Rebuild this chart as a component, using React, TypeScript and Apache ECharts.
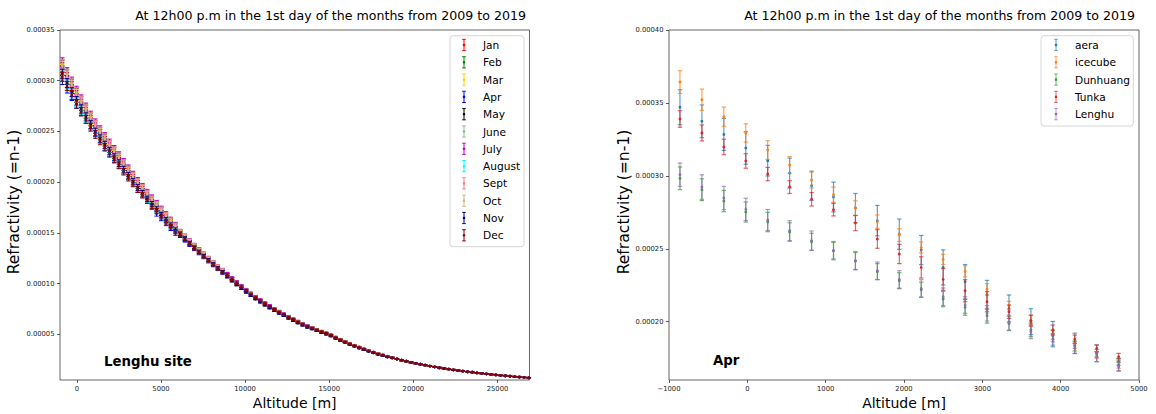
import React, { useEffect, useRef } from 'react';
import * as echarts from 'echarts';

// ---------------- DATA (values in units of 1e-6) ----------------
const TITLE = 'At 12h00 p.m in the 1st day of the months from 2009 to 2019';

const ALT = [
  -860, -580, -300, -20, 260, 540, 820, 1100, 1380, 1660,
  1940, 2220, 2500, 2780, 3060, 3340, 3620, 3900, 4180, 4460,
  4740, 5020, 5300, 5580, 5860, 6140, 6420, 6700, 6980, 7260,
  7540, 7820, 8100, 8380, 8660, 8940, 9220, 9500, 9780, 10060,
  10340, 10620, 10900, 11180, 11460, 11740, 12020, 12300, 12580, 12860,
  13140, 13420, 13700, 13980, 14260, 14540, 14820, 15100, 15380, 15660,
  15940, 16220, 16500, 16780, 17060, 17340, 17620, 17900, 18180, 18460,
  18740, 19020, 19300, 19580, 19860, 20140, 20420, 20700, 20980, 21260,
  21540, 21820, 22100, 22380, 22660, 22940, 23220, 23500, 23780, 24060,
  24340, 24620, 24900, 25180, 25460, 25740, 26020, 26300, 26580, 26860,
];

const MONTHS = ['Jan', 'Feb', 'Mar', 'Apr', 'May', 'June', 'July', 'August', 'Sept', 'Oct', 'Nov', 'Dec'];
const MONTH_COLORS = ['#ff0000', '#008000', '#ffd700', '#0000ff', '#000000', '#8fbc8f', '#bf00bf', '#00ffff', '#f08080', '#d2b48c', '#00008b', '#8b0000'];

// lower part (first 35 altitudes)
const JAN_LOW = [313.1, 303.7, 294.6, 285.8, 277.6, 269.8, 262.0, 254.5, 248.0, 241.5, 235.2, 229.2, 223.2, 216.7, 210.6, 204.5, 198.7, 192.9, 187.4, 182.0, 176.8, 171.3, 166.0, 160.9, 155.9, 150.4, 145.8, 141.3, 137.0, 132.8, 128.6, 124.5, 120.5, 116.6, 112.9];
const FEB_LOW = [315.6, 306.1, 297.0, 288.1, 279.8, 271.9, 264.1, 256.5, 249.9, 243.4, 237.1, 231.0, 225.0, 218.5, 212.3, 206.1, 200.2, 194.4, 188.8, 183.4, 178.2, 172.7, 167.4, 162.2, 157.2, 151.0, 146.4, 141.9, 137.5, 133.3, 129.2, 125.0, 121.0, 117.0, 113.3];
const MAR_LOW = [311.6, 302.2, 293.2, 284.4, 276.3, 268.4, 260.7, 253.3, 246.7, 240.3, 234.1, 228.0, 222.1, 215.7, 209.5, 203.5, 197.7, 192.0, 186.4, 181.1, 175.9, 170.4, 165.2, 160.1, 155.2, 150.1, 145.5, 141.0, 136.6, 132.4, 128.3, 124.2, 120.2, 116.3, 112.6];
const APR_LOW = [300.8, 292.3, 284.8, 277.0, 269.7, 262.4, 255.5, 248.7, 241.8, 234.9, 229.0, 222.8, 217.1, 211.4, 205.7, 199.3, 192.9, 187.9, 181.7, 176.0, 169.1, 164.5, 159.5, 154.6, 149.8, 147.5, 142.9, 138.5, 134.3, 130.1, 126.1, 122.0, 118.1, 114.3, 110.6];
const MAY_LOW = [310.0, 300.7, 291.7, 283.0, 274.9, 267.1, 259.4, 252.0, 245.5, 239.1, 232.9, 226.9, 221.0, 214.6, 208.5, 202.5, 196.7, 191.0, 185.5, 180.2, 175.0, 169.6, 164.4, 159.3, 154.4, 149.7, 145.1, 140.6, 136.3, 132.1, 128.0, 123.9, 119.9, 116.0, 112.3];
const JUN_LOW = [316.8, 307.3, 298.1, 289.2, 280.9, 273.0, 265.1, 257.5, 250.9, 244.4, 238.0, 231.9, 225.9, 219.3, 213.1, 207.0, 201.0, 195.2, 189.6, 184.2, 178.9, 173.3, 168.0, 162.8, 157.8, 151.3, 146.7, 142.1, 137.8, 133.6, 129.4, 125.3, 121.2, 117.3, 113.5];
const JUL_LOW = [318.1, 308.5, 299.3, 290.4, 282.0, 274.0, 266.1, 258.6, 251.9, 245.3, 239.0, 232.8, 226.7, 220.2, 213.9, 207.8, 201.8, 196.0, 190.3, 184.9, 179.6, 174.0, 168.7, 163.4, 158.4, 151.6, 147.0, 142.4, 138.1, 133.8, 129.7, 125.5, 121.5, 117.5, 113.8];
const AUG_LOW = [305.4, 296.2, 287.3, 278.8, 270.8, 263.1, 255.5, 248.2, 241.8, 235.5, 229.4, 223.5, 217.7, 211.4, 205.4, 199.5, 193.7, 188.1, 182.7, 177.5, 172.4, 167.1, 161.9, 156.9, 152.1, 148.6, 144.0, 139.5, 135.3, 131.1, 127.0, 123.0, 119.0, 115.1, 111.5];
const SEP_LOW = [316.2, 306.7, 297.5, 288.7, 280.4, 272.4, 264.6, 257.0, 250.4, 243.9, 237.6, 231.4, 225.4, 218.9, 212.7, 206.6, 200.6, 194.8, 189.2, 183.8, 178.5, 173.0, 167.7, 162.5, 157.5, 151.2, 146.6, 142.0, 137.7, 133.4, 129.3, 125.1, 121.1, 117.2, 113.4];
const OCT_LOW = [314.7, 305.2, 296.1, 287.2, 279.0, 271.1, 263.3, 255.8, 249.2, 242.7, 236.4, 230.3, 224.3, 217.8, 211.6, 205.5, 199.7, 193.9, 188.3, 182.9, 177.6, 172.1, 166.9, 161.7, 156.7, 150.8, 146.2, 141.7, 137.3, 133.1, 129.0, 124.8, 120.8, 116.9, 113.1];
const NOV_LOW = [306.9, 297.7, 288.8, 280.2, 272.2, 264.4, 256.8, 249.5, 243.0, 236.7, 230.6, 224.6, 218.8, 212.5, 206.4, 200.5, 194.7, 189.1, 183.6, 178.4, 173.3, 167.9, 162.8, 157.7, 152.9, 149.0, 144.4, 139.9, 135.6, 131.4, 127.4, 123.3, 119.3, 115.4, 111.7];
const DEC_LOW = [303.8, 294.7, 285.9, 277.3, 269.4, 261.8, 254.2, 247.0, 240.6, 234.3, 228.2, 222.4, 216.6, 210.3, 204.3, 198.5, 192.8, 187.2, 181.8, 176.6, 171.5, 166.2, 161.1, 156.1, 151.3, 148.2, 143.6, 139.2, 134.9, 130.8, 126.7, 122.7, 118.7, 114.8, 111.2];

// middle part (altitudes 36..70)
const MID_BASE = [108.7, 104.6, 100.7, 96.9, 93.3, 89.8, 86.5, 83.3, 80.3, 77.5, 74.7, 72.1, 69.6, 67.1, 64.7, 62.4, 60.2, 58.1, 56.3, 54.5, 52.7, 51.1, 49.2, 46.9, 44.8, 42.8, 40.8, 39.0, 37.2, 35.5, 33.9, 32.4, 30.9, 29.6, 28.2];
const MID_LOW = [107.1, 103.0, 99.2, 95.4, 91.9, 88.5, 85.2, 82.1, 79.1, 76.3, 73.6, 71.0, 68.6, 66.1, 63.7, 61.5, 59.3, 57.2, 55.5, 53.7, 51.9, 50.3, 48.5, 46.2, 44.1, 42.2, 40.2, 38.4, 36.6, 35.0, 33.4, 31.9, 30.4, 29.2, 27.8];
const MID_HIGH = [109.8, 105.6, 101.7, 97.9, 94.2, 90.7, 87.4, 84.1, 81.1, 78.3, 75.4, 72.8, 70.3, 67.8, 65.3, 63.0, 60.8, 58.7, 56.9, 55.0, 53.2, 51.6, 49.7, 47.4, 45.2, 43.2, 41.2, 39.4, 37.6, 35.9, 34.2, 32.7, 31.2, 29.9, 28.5];
// upper part (last 30 altitudes)
const HIGH_COMMON = [27.0, 25.8, 24.6, 23.6, 22.5, 21.5, 20.6, 19.7, 18.8, 18.0, 17.2, 16.5, 15.8, 15.1, 14.4, 13.8, 13.2, 12.7, 12.1, 11.6, 11.1, 10.6, 10.2, 9.7, 9.3, 8.8, 8.4, 8.0, 7.7, 7.3];

const ERR_MONTH = [
  4.5, 4.4, 4.3, 4.2, 4.1, 4.0, 3.9, 3.8, 3.7, 3.6,
  3.5, 3.4, 3.3, 3.2, 3.1, 3.0, 2.9, 2.8, 2.7, 2.6,
  2.5, 2.4, 2.3, 2.2, 2.1, 2.0, 1.9, 1.8, 1.7, 1.6,
  1.5, 1.5, 1.4, 1.4, 1.3, 1.3, 1.2, 1.2, 1.1, 1.1,
  1.0, 1.0, 1.0, 1.0, 1.0, 0.9, 0.9, 0.9, 0.9, 0.9,
  0.9, 0.9, 0.8, 0.8, 0.8, 0.8, 0.7, 0.7, 0.7, 0.7,
  0.6, 0.6, 0.6, 0.6, 0.6, 0.5, 0.5, 0.5, 0.5, 0.5,
  0.5, 0.5, 0.5, 0.5, 0.5, 0.4, 0.4, 0.4, 0.4, 0.4,
  0.4, 0.4, 0.4, 0.4, 0.4, 0.3, 0.3, 0.3, 0.3, 0.3,
  0.3, 0.3, 0.3, 0.3, 0.3, 0.2, 0.2, 0.2, 0.2, 0.2,
];

const MONTH_VALUES = [
  [...JAN_LOW, ...MID_BASE, ...HIGH_COMMON],
  [...FEB_LOW, ...MID_BASE, ...HIGH_COMMON],
  [...MAR_LOW, ...MID_LOW, ...HIGH_COMMON],
  [...APR_LOW, ...MID_LOW, ...HIGH_COMMON],
  [...MAY_LOW, ...MID_BASE, ...HIGH_COMMON],
  [...JUN_LOW, ...MID_HIGH, ...HIGH_COMMON],
  [...JUL_LOW, ...MID_HIGH, ...HIGH_COMMON],
  [...AUG_LOW, ...MID_BASE, ...HIGH_COMMON],
  [...SEP_LOW, ...MID_BASE, ...HIGH_COMMON],
  [...OCT_LOW, ...MID_BASE, ...HIGH_COMMON],
  [...NOV_LOW, ...MID_LOW, ...HIGH_COMMON],
  [...DEC_LOW, ...MID_BASE, ...HIGH_COMMON],
];

// right panel: April, five sites
const ALT_APR = [-860, -580, -300, -20, 260, 540, 820, 1100, 1380, 1660, 1940, 2220, 2500, 2780, 3060, 3340, 3620, 3900, 4180, 4460, 4740];
const SITES = ['aera', 'icecube', 'Dunhuang', 'Tunka', 'Lenghu'];
const SITE_COLORS = ['#1f77b4', '#ff7f0e', '#2ca02c', '#d62728', '#9467bd'];
const AERA = [347.0, 337.4, 328.4, 319.1, 310.4, 301.9, 293.2, 285.5, 277.9, 269.3, 260.0, 249.1, 237.2, 227.4, 218.3, 209.1, 200.0, 191.5, 185.1, 178.3, 170.5];
const AERA_ERR = [12.0, 11.2, 11.0, 11.2, 10.5, 10.2, 10.0, 10.2, 10.0, 10.4, 10.4, 10.0, 12.0, 11.8, 10.0, 9.2, 8.9, 8.7, 7.0, 5.7, 4.3];
const ICECUBE = [364.3, 352.2, 340.6, 329.4, 317.7, 307.4, 297.1, 287.1, 277.9, 268.6, 259.4, 250.9, 242.7, 234.5, 222.2, 211.0, 201.1, 190.8, 184.0, 177.1, 170.3];
const ICECUBE_ERR = [7.8, 7.3, 6.6, 6.3, 6.4, 5.8, 5.4, 5.2, 5.0, 4.6, 4.3, 3.8, 3.5, 3.8, 3.9, 2.9, 3.2, 2.9, 2.3, 2.3, 2.3];
const DUNHUANG = [298.3, 290.5, 282.7, 275.2, 268.3, 261.5, 254.8, 248.7, 241.6, 234.3, 228.1, 221.9, 215.5, 209.8, 204.1, 198.8, 194.3, 190.2, 183.3, 178.3, 172.5];
const DUNHUANG_ERR = [7.8, 7.5, 7.3, 6.9, 6.6, 6.3, 5.8, 5.7, 5.8, 5.5, 5.5, 5.2, 5.3, 5.4, 5.1, 4.9, 4.6, 4.0, 3.4, 2.7, 2.3];
const TUNKA = [339.0, 329.4, 319.8, 310.2, 301.2, 292.3, 283.9, 276.8, 267.6, 256.7, 246.4, 237.2, 229.0, 221.2, 213.7, 206.8, 200.7, 194.3, 187.9, 181.7, 176.0];
const TUNKA_ERR = [5.7, 5.5, 5.3, 5.0, 4.6, 4.4, 4.6, 4.3, 5.2, 6.4, 6.6, 7.3, 7.5, 7.6, 6.9, 4.6, 3.8, 3.4, 2.9, 2.3, 2.3];
const LENGHU = [300.8, 292.3, 284.8, 277.0, 269.7, 262.4, 255.5, 248.7, 241.8, 234.9, 229.0, 222.8, 217.1, 211.4, 205.7, 199.3, 192.9, 187.9, 181.7, 176.0, 169.1];
const LENGHU_ERR = [8.0, 8.4, 8.0, 7.6, 7.2, 6.9, 6.7, 6.3, 6.3, 6.0, 6.0, 6.0, 6.0, 5.7, 5.3, 5.1, 4.6, 4.0, 3.4, 3.4, 2.9];
const SITE_VALUES = [AERA, ICECUBE, DUNHUANG, TUNKA, LENGHU];
const SITE_ERRS = [AERA_ERR, ICECUBE_ERR, DUNHUANG_ERR, TUNKA_ERR, LENGHU_ERR];

// tick labels
const X_TICKS_LEFT = [0, 5000, 10000, 15000, 20000, 25000];
const Y_TICKS_LEFT = [50, 100, 150, 200, 250, 300, 350];
const X_TICKS_RIGHT = [-1000, 0, 1000, 2000, 3000, 4000, 5000];
const Y_TICKS_RIGHT = [200, 250, 300, 350, 400];

// ---------------- CHART ----------------
const FONT = "'DejaVu Sans', sans-serif";

function errorSeries(name: string, color: string, alts: number[], vals: number[], errs: number[], idx: number, o: any) {
  const data = alts.map((a, i) => [a, vals[i], errs[i]]);
  return {
    type: 'custom',
    name,
    xAxisIndex: idx,
    yAxisIndex: idx,
    itemStyle: { color },
    data,
    encode: { x: 0, y: 1 },
    silent: true,
    renderItem: (_p: any, api: any) => {
      const x = api.value(0);
      const y = api.value(1);
      const e = api.value(2);
      const c = api.coord([x, y]);
      const t = api.coord([x, y + e]);
      const b = api.coord([x, y - e]);
      const ls = { stroke: color, lineWidth: o.lw, opacity: o.op };
      return {
        type: 'group',
        children: [
          { type: 'line', shape: { x1: c[0], y1: t[1], x2: c[0], y2: b[1] }, style: ls },
          { type: 'line', shape: { x1: c[0] - o.cap, y1: t[1], x2: c[0] + o.cap, y2: t[1] }, style: ls },
          { type: 'line', shape: { x1: c[0] - o.cap, y1: b[1], x2: c[0] + o.cap, y2: b[1] }, style: ls },
          { type: 'circle', shape: { cx: c[0], cy: c[1], r: o.r }, style: { fill: color } },
        ],
      };
    },
  };
}

const fmtY = (v: number) => (v / 1e6).toFixed(5);
const fmtX = (v: number) => (v < 0 ? '\u2212' + Math.abs(v) : String(v));

function axisCommon(ticks: number[], fmt: (v: number) => string) {
  return {
    type: 'value',
    axisLine: { show: false, onZero: false },
    splitLine: { show: false },
    axisTick: { show: true, length: 3, lineStyle: { color: '#333', width: 0.8 }, customValues: ticks },
    axisLabel: { customValues: ticks, formatter: fmt, fontSize: 6.8, fontFamily: FONT, color: '#222', margin: 5.5 },
  };
}

function txt(text: string, x: number, y: number, font: string, align: string, rotation = 0) {
  return {
    type: 'text',
    x,
    y,
    rotation,
    silent: true,
    style: { text, font, fill: '#000', textAlign: align, textVerticalAlign: 'middle' },
  };
}

// legend drawn as graphic: frame + error-bar icons + labels
function legendGraphic(names: string[], colors: string[], box: { x: number; y: number; w: number; h: number }, iconX: number, textX: number, barOpacity: number) {
  const els: any[] = [
    {
      type: 'rect',
      silent: true,
      shape: { x: box.x, y: box.y, width: box.w, height: box.h, r: 3 },
      style: { fill: 'rgba(255,255,255,0.8)', stroke: '#d6d6d6', lineWidth: 1 },
    },
  ];
  names.forEach((n, k) => {
    const cy = box.y + 9.3 + 17.3 * k;
    const c = colors[k];
    const ls = { stroke: c, lineWidth: 1, opacity: barOpacity };
    els.push({ type: 'line', silent: true, shape: { x1: iconX, y1: cy - 5.6, x2: iconX, y2: cy + 5.6 }, style: ls });
    els.push({ type: 'line', silent: true, shape: { x1: iconX - 1.8, y1: cy - 5.6, x2: iconX + 1.8, y2: cy - 5.6 }, style: ls });
    els.push({ type: 'line', silent: true, shape: { x1: iconX - 1.8, y1: cy + 5.6, x2: iconX + 1.8, y2: cy + 5.6 }, style: ls });
    els.push({ type: 'circle', silent: true, shape: { cx: iconX, cy, r: 1.3 }, style: { fill: c } });
    els.push(txt(n, textX, cy, `10.6px ${FONT}`, 'left'));
  });
  return els;
}

export default function App() {
  const ref = useRef<HTMLDivElement>(null);
  useEffect(() => {
    if (!ref.current) return;
    const chart = echarts.init(ref.current, undefined, { renderer: 'svg' });
    const series: any[] = [];
    MONTHS.forEach((m, i) => {
      series.push(errorSeries(m, MONTH_COLORS[i], ALT, MONTH_VALUES[i], ERR_MONTH, 0, { lw: 1, op: 1, cap: 2.2, r: 1.4 }));
    });
    SITES.forEach((s, i) => {
      series.push(errorSeries(s, SITE_COLORS[i], ALT_APR, SITE_VALUES[i], SITE_ERRS[i], 1, { lw: 1.2, op: 0.7, cap: 2.2, r: 1.4 }));
    });
    chart.setOption({
      animation: false,
      grid: [
        { left: 60, top: 30, width: 469.5, height: 350, show: true, borderColor: '#666', borderWidth: 1, backgroundColor: 'transparent' },
        { left: 669, top: 30, width: 470, height: 350, show: true, borderColor: '#666', borderWidth: 1, backgroundColor: 'transparent' },
      ],
      xAxis: [
        { ...axisCommon(X_TICKS_LEFT, fmtX), gridIndex: 0, min: -1000, max: 26900 },
        { ...axisCommon(X_TICKS_RIGHT, fmtX), gridIndex: 1, min: -1000, max: 5000 },
      ],
      yAxis: [
        { ...axisCommon(Y_TICKS_LEFT, fmtY), gridIndex: 0, min: 5.1, max: 350 },
        { ...axisCommon(Y_TICKS_RIGHT, fmtY), gridIndex: 1, min: 160, max: 400 },
      ],
      series,
      graphic: [
        txt(TITLE, 526, 15.3, `12.6px ${FONT}`, 'right'),
        txt(TITLE, 1135, 15.3, `12.6px ${FONT}`, 'right'),
        txt('Refractivity (=n-1)', 13.5, 202, `15.6px ${FONT}`, 'center', Math.PI / 2),
        txt('Refractivity (=n-1)', 624, 202, `15.6px ${FONT}`, 'center', Math.PI / 2),
        txt('Altitude [m]', 294.7, 402.8, `14px ${FONT}`, 'center'),
        txt('Altitude [m]', 904, 402.8, `14px ${FONT}`, 'center'),
        txt('Lenghu site', 104, 361, `bold 13.3px ${FONT}`, 'left'),
        txt('Apr', 713, 360.7, `bold 13.3px ${FONT}`, 'left'),
        ...legendGraphic(MONTHS, MONTH_COLORS, { x: 450, y: 35.7, w: 74, h: 211 }, 464, 483, 1),
        ...legendGraphic(SITES, SITE_COLORS, { x: 1041, y: 35.7, w: 92.3, h: 90.3 }, 1056, 1075, 0.7),
      ],
    });
    return () => chart.dispose();
  }, []);
  return <div ref={ref} style={{ position: 'fixed', left: 0, top: 0, width: 1156, height: 414, background: '#fff' }} />;
}
